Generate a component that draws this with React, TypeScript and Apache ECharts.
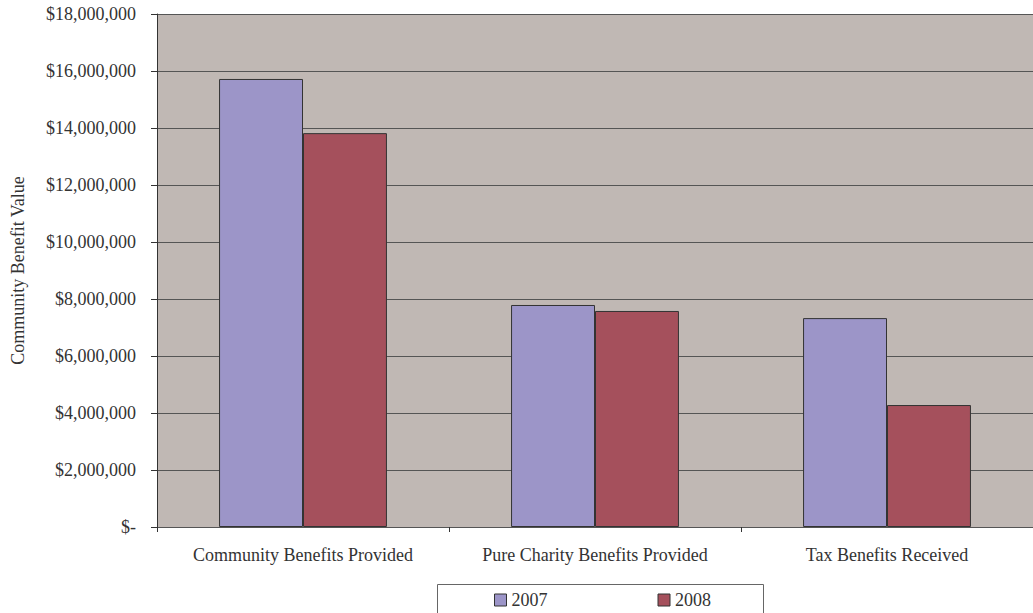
import React, { useEffect, useRef } from "react";
import * as echarts from "echarts";

const categories = ["Community Benefits Provided", "Pure Charity Benefits Provided", "Tax Benefits Received"];
const values2007 = [15720000, 7790000, 7330000];
const values2008 = [13820000, 7580000, 4280000];
const seriesNames = ["2007", "2008"];

const FONT = "Liberation Serif";

function fmt(v: number): string {
  if (v === 0) return "$-";
  return "$" + v.toLocaleString("en-US");
}

export default function App() {
  const ref = useRef<HTMLDivElement>(null);
  useEffect(() => {
    if (!ref.current) return;
    const chart = echarts.init(ref.current, undefined, { renderer: "svg" });
    chart.setOption({
      animation: false,
      backgroundColor: "#ffffff",
      textStyle: { fontFamily: FONT },
      grid: {
        left: 157,
        right: 0,
        top: 14,
        bottom: 86,
        show: true,
        backgroundColor: "#C0B8B4",
        borderWidth: 0,
        containLabel: false,
        outerBoundsMode: "none",
      },
      legend: {
        data: seriesNames,
        left: 494,
        top: 591,
        itemWidth: 12,
        itemHeight: 12,
        itemGap: 110,
        icon: "rect",
        padding: 0,
        textStyle: { fontFamily: FONT, fontSize: 18, color: "#333333" },
        itemStyle: { borderColor: "#333333", borderWidth: 1 },
      },
      graphic: [
        {
          type: "rect",
          shape: { x: 437.5, y: 584.5, width: 326, height: 40 },
          style: { fill: "none", stroke: "#666666", lineWidth: 1 },
          silent: true,
        },
      ],
      xAxis: {
        type: "category",
        data: categories,
        axisLine: { show: true, lineStyle: { color: "#555555", width: 1 } },
        axisTick: { show: true, length: 5, interval: 0, lineStyle: { color: "#333333" } },
        axisLabel: { fontFamily: FONT, fontSize: 18, color: "#333333", margin: 19, interval: 0 },
        splitLine: { show: false },
      },
      yAxis: {
        type: "value",
        min: 0,
        max: 18000000,
        interval: 2000000,
        name: "Community Benefit Value",
        nameLocation: "middle",
        nameGap: 130,
        nameTextStyle: { fontFamily: FONT, fontSize: 18, color: "#333333" },
        axisLine: { show: true, lineStyle: { color: "#333333", width: 1 } },
        axisTick: { show: true, length: 6, lineStyle: { color: "#333333" } },
        axisLabel: { fontFamily: FONT, fontSize: 18, color: "#333333", margin: 21, formatter: fmt },
        splitLine: { show: true, lineStyle: { color: "#555555", width: 1 } },
      },
      series: [
        {
          name: seriesNames[0],
          type: "bar",
          data: values2007,
          barGap: "0%",
          barCategoryGap: "42.5%",
          itemStyle: { color: "#9C95C8", borderColor: "#333333", borderWidth: 1 },
        },
        {
          name: seriesNames[1],
          type: "bar",
          data: values2008,
          barGap: "0%",
          barCategoryGap: "42.5%",
          itemStyle: { color: "#A5505C", borderColor: "#333333", borderWidth: 1 },
        },
      ],
    });
    return () => chart.dispose();
  }, []);
  return <div ref={ref} style={{ width: 1033, height: 613, position: "absolute", left: 0, top: 0 }} />;
}
